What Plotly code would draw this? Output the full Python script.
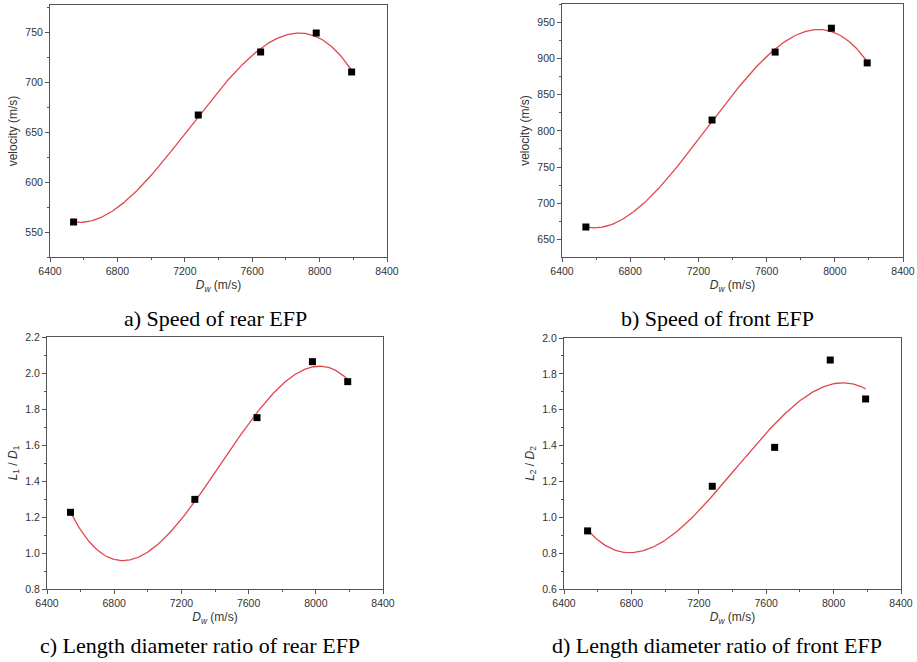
import numpy as np
import plotly.graph_objects as go

# ---- data ----
dw = [6540, 7280, 7650, 7980, 8190]
v_rear = [560, 667, 730, 749, 710]
v_front = [667, 815, 909, 942, 894]
ld_rear = [1.226, 1.298, 1.752, 2.063, 1.952]
ld_front = [0.924, 1.173, 1.39, 1.877, 1.66]

captions = ["a) Speed of rear EFP", "b) Speed of front EFP",
            "c) Length diameter ratio of rear EFP", "d) Length diameter ratio of front EFP"]
ytitles = ["velocity (m/s)", "velocity (m/s)",
           "<i>L</i><sub>1</sub> / <i>D</i><sub>1</sub>",
           "<i>L</i><sub>2</sub> / <i>D</i><sub>2</sub>"]
xtitle = "<i>D</i><sub><i>w</i></sub> (m/s)"
xticks = [6400, 6800, 7200, 7600, 8000, 8400]

W, H = 917, 662
# pixel boxes: left, right, top, bottom
boxes = [(50, 387, 5, 257), (562, 903, 4, 257), (47, 383, 337, 589), (564, 901, 338, 589)]
yranges = [(525, 777), (625.5, 975.5), (0.8, 2.2), (0.6, 2.0)]
ydticks = [50, 50, 0.2, 0.2]
ytickfmt = ["d", "d", ".1f", ".1f"]
cap_pos = [(215, 318), (717, 318), (200, 645), (717, 645)]

series = [v_rear, v_front, ld_rear, ld_front]

fig = go.Figure()
layout = dict(width=W, height=H, margin=dict(l=0, r=0, t=0, b=0, autoexpand=False),
              paper_bgcolor="white", plot_bgcolor="white", showlegend=False)

annotations = []
for i, ys in enumerate(series):
    n = "" if i == 0 else str(i + 1)
    xa, ya = "x" + n, "y" + n
    coef = np.polyfit(dw, ys, 3)
    xf = np.linspace(min(dw), max(dw), 300)
    yf = np.polyval(coef, xf)
    fig.add_trace(go.Scatter(x=xf, y=yf, mode="lines", line=dict(color="#e0474c", width=1.3),
                             xaxis=xa, yaxis=ya, hoverinfo="skip"))
    fig.add_trace(go.Scatter(x=dw, y=ys, mode="markers",
                             marker=dict(symbol="square", size=7, color="black"),
                             xaxis=xa, yaxis=ya))
    l, r, t, b = boxes[i]
    axcommon = dict(showline=True, linecolor="#555", linewidth=1, mirror=True,
                    showgrid=False, zeroline=False, automargin=False,
                    tickfont=dict(family="Liberation Sans, Arial", size=10.5, color="#333"),
                    tickcolor="#555", ticks="outside", ticklen=4)
    tfont = dict(family="Liberation Sans, Arial", size=12, color="#333")
    layout["xaxis" + n] = dict(axcommon, domain=[l / W, r / W], anchor=ya,
                               range=[6400, 8400], tickvals=xticks,
                               minor=dict(dtick=200, tick0=6400, ticks="outside", ticklen=2, tickcolor="#555"),
                               title=dict(text=xtitle, standoff=5, font=tfont))
    layout["yaxis" + n] = dict(axcommon, domain=[1 - b / H, 1 - t / H], anchor=xa,
                               range=list(yranges[i]), dtick=ydticks[i], tickformat=ytickfmt[i],
                               minor=dict(dtick=ydticks[i] / 2, ticks="outside", ticklen=2, tickcolor="#555"),
                               title=dict(text=ytitles[i], standoff=5, font=tfont))
    cx, cy = cap_pos[i]
    annotations.append(dict(text=captions[i], x=cx / W, y=1 - cy / H, xref="paper", yref="paper",
                            showarrow=False, xanchor="center", yanchor="middle",
                            font=dict(family="Liberation Serif, Times New Roman", size=22, color="black")))

layout["annotations"] = annotations
fig.update_layout(**layout)
fig.write_html("out.html", config={"displayModeBar": False},
               post_script="document.body.style.margin='0';document.body.style.overflow='hidden';")
